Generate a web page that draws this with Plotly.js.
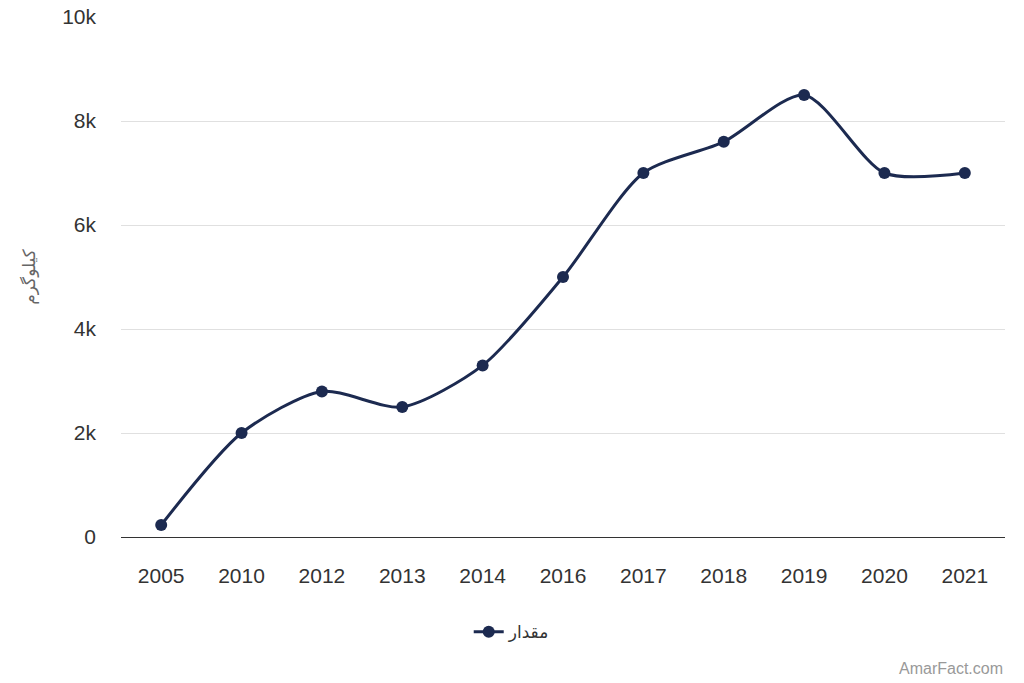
<!DOCTYPE html>
<html><head><meta charset="utf-8">
<script src="https://cdn.plot.ly/plotly-3.0.1.min.js"></script>
<style>html,body{margin:0;padding:0;background:#fff}#chart{width:1024px;height:683px}</style>
</head><body><div id="chart"></div>
<script>
const years = ['2005','2010','2012','2013','2014','2016','2017','2018','2019','2020','2021'];
const values = [230, 2000, 2800, 2500, 3300, 5000, 7000, 7600, 8500, 7000, 7000];
const seriesName = 'مقدار';
const yTitle = 'کیلوگرم';
const yTickVals = [0, 2000, 4000, 6000, 8000, 10000];
const yTickText = ['0', '2k', '4k', '6k', '8k', '10k'];

const trace = {
  x: years, y: values, type: 'scatter', mode: 'lines+markers', name: seriesName,
  line: {color: '#1c2a50', width: 3, shape: 'spline', smoothing: 0.75},
  marker: {color: '#1c2a50', size: 12}
};
const layout = {
  width: 1024, height: 683,
  margin: {l: 121, r: 19, t: 17, b: 146, autoexpand: false},
  paper_bgcolor: '#fff', plot_bgcolor: '#fff',
  font: {family: 'Liberation Sans, Arial, sans-serif', color: '#333', size: 21},
  xaxis: {type: 'category', range: [-0.5, 10.5], showgrid: false, showline: true, linecolor: '#333', linewidth: 1,
          ticks: '', tickangle: 0, automargin: false, ticklabelstandoff: 20, tickfont: {size: 21, color: '#333'}, zeroline: false, fixedrange: true},
  yaxis: {range: [0, 10000], tickvals: yTickVals, ticktext: yTickText, showgrid: true, automargin: false,
          gridcolor: '#e0e0e0', gridwidth: 1, zeroline: false, showline: false,
          tickfont: {size: 21, color: '#333'}, ticks: '', ticklabelstandoff: 24,
          title: {text: yTitle, font: {size: 17, color: '#666', family: 'Noto Sans, DejaVu Sans, sans-serif'}, standoff: 22}},
  showlegend: true,
  legend: {orientation: 'h', x: 0.442, xanchor: 'center', y: -0.183, yanchor: 'middle',
           font: {size: 17, color: '#333', family: 'Noto Sans, DejaVu Sans, sans-serif'}},
  annotations: [{text: 'AmarFact.com', xref: 'paper', yref: 'paper', x: 1, xanchor: 'right',
                 y: -0.252, yanchor: 'middle', showarrow: false,
                 font: {size: 16, color: '#999', family: 'Liberation Sans, Arial, sans-serif'}}]
};
Plotly.newPlot('chart', [trace], layout, {displayModeBar: false, staticPlot: true});
</script></body></html>
